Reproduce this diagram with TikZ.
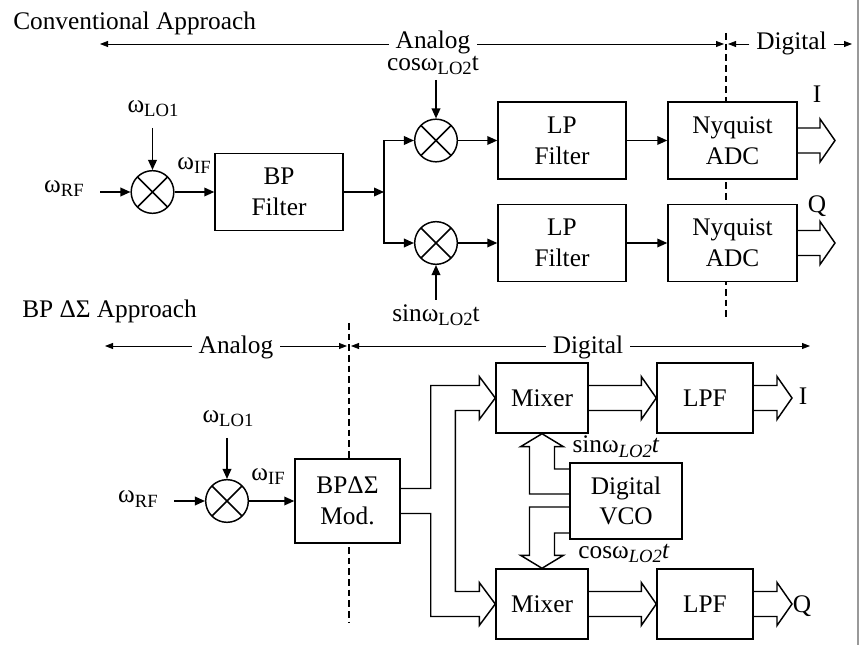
\documentclass[tikz,border=0pt]{standalone}
\usepackage{fontspec}
\setmainfont{Liberation Serif}
\usetikzlibrary{arrows.meta,calc}

% lowered subscript
\newcommand{\sbs}[1]{\raisebox{-3pt}{\fontsize{14}{14}\selectfont #1}}
% hollow bus arrow, #1 start anchor, #2 tip (same height)
\newcommand{\busright}[2]{\draw[bus] ($(#1)+(0,-12.5)$) -- ($(#2)+(-15,-12.5)$) -- ++(0,-9) -- (#2) -- ++(-15,21.5) -- ++(0,-9) -- ($(#1)+(0,12.5)$);}

\tikzset{
  sig/.style={line width=1.1pt, -{Triangle[length=7.5pt,width=6.5pt]}},
  bus/.style={line width=1.1pt, line join=miter},
  span/.style={line width=0.6pt, -{Triangle[length=6pt,width=4.5pt]}},
  divider/.style={line width=1pt, dash pattern=on 5pt off 3pt},
  blk/.style={draw, fill=white, line width=1.1pt, align=center, inner sep=0pt},
  mixer/.style={circle, draw, fill=white, line width=1.1pt, minimum size=32pt, inner sep=0pt,
    path picture={\draw[line width=1.1pt] (path picture bounding box.north west) -- (path picture bounding box.south east)
      (path picture bounding box.north east) -- (path picture bounding box.south west);}},
  lbl/.style={inner sep=0pt, anchor=base},
  tag/.style={inner xsep=5pt, inner ysep=0pt, anchor=base},
}

\begin{document}
\begin{tikzpicture}[x=0.75pt,y=0.75pt,yscale=-1,xscale=1, font=\fontsize{19}{23}\selectfont]
\useasboundingbox (0,0) rectangle (861,645);

%Straight Lines: page edge
\draw [black!40, line width=0.8pt] (858,0) -- (858,645);

%Dashed dividers
\draw [divider] (726,33) -- (726,320);
\draw [divider] (349,323) -- (349,622);

% ---------------- Conventional approach ----------------
% Text Node
\node [lbl, anchor=base west] (tconv) at (13,30) {Conventional Approach};
\node [tag] (tana) at (433,49) {Analog};
\node [tag] (tdig) at (791.5,50) {Digital};
\coordinate (tl) at (100,44);
\coordinate (tm1) at (724,44);
\coordinate (tm2) at (728,44);
\coordinate (tr) at (852,44);
\draw [span] (tana.west |- tl) -- (tl);
\draw [span] (tana.east |- tl) -- (tm1);
\draw [span] (tdig.west |- tl) -- (tm2);
\draw [span] (tdig.east |- tl) -- (tr);

%Shape: Mixers
\node [mixer] (m1) at (152.5,192) {};
\node [mixer] (m2) at (436,140.5) {};
\node [mixer] (m3) at (436,243) {};

%Shape: Blocks
\node [blk, minimum width=96pt, minimum height=57.75pt] (bpf) at (279,192) {BP\\Filter};
\node [blk, minimum width=96pt, minimum height=57.75pt] (lpf1) at (562,140.5) {LP\\Filter};
\node [blk, minimum width=96pt, minimum height=57.75pt] (lpf2) at (562,243) {LP\\Filter};
\node [blk, minimum width=96.75pt, minimum height=57.75pt] (adc1) at (732.5,140.5) {Nyquist\\ADC};
\node [blk, minimum width=96.75pt, minimum height=57.75pt] (adc2) at (732.5,243) {Nyquist\\ADC};

% Text Node
\node [lbl] (tlo1) at (153,113) {ω\sbs{LO1}};
\node [lbl] (trf) at (64,193) {ω\sbs{RF}};
\node [lbl] (tif) at (194,170) {ω\sbs{IF}};
\node [lbl] (tcos) at (433,71) {cosω\sbs{LO2}t};
\node [lbl] (tsin) at (436,322) {sinω\sbs{LO2}t};
\node [lbl] (tI) at (817,103) {I};
\node [lbl] (tQ) at (817,213) {Q};

%Connectors
\coordinate (rfin) at (100,192);
\coordinate (lo1in) at (152.5,128);
\coordinate (jn) at (384,192);
\coordinate (cosin) at (436,80);
\coordinate (sinin) at (436,300);
\coordinate (oI) at (835,140.5);
\coordinate (oQ) at (835,243);
\draw [sig] (rfin) -- (m1);
\draw [sig] (lo1in) -- (m1);
\draw [sig] (m1) -- (bpf);
\draw [sig] (bpf) -- (jn);
\draw [sig] (jn) |- (m2);
\draw [sig] (jn) |- (m3);
\draw [sig] (cosin) -- (m2);
\draw [sig] (sinin) -- (m3);
\draw [sig] (m2) -- (lpf1);
\draw [sig] (m3) -- (lpf2);
\draw [sig] (lpf1) -- (adc1);
\draw [sig] (lpf2) -- (adc2);
\busright{adc1.east}{oI}
\busright{adc2.east}{oQ}

% ---------------- BP Delta-Sigma approach ----------------
% Text Node
\node [lbl, anchor=base west] (tbp) at (22,318) {BP ΔΣ Approach};
\node [tag] (bana) at (236,354) {Analog};
\node [tag] (bdig) at (588,354) {Digital};
\coordinate (bl) at (105,346);
\coordinate (bm1) at (347,346);
\coordinate (bm2) at (351,346);
\coordinate (br) at (810,346);
\draw [span] (bana.west |- bl) -- (bl);
\draw [span] (bana.east |- bl) -- (bm1);
\draw [span] (bdig.west |- bl) -- (bm2);
\draw [span] (bdig.east |- bl) -- (br);

%Shape: Mixer and blocks
\node [mixer] (m4) at (227,501) {};
\node [blk, minimum width=78.75pt, minimum height=63pt] (bpds) at (347.5,501) {BPΔΣ\\Mod.};
\node [blk, minimum width=69pt, minimum height=52.5pt] (mixA) at (542,398) {Mixer};
\node [blk, minimum width=69pt, minimum height=52.5pt] (mixB) at (542,604) {Mixer};
\node [blk, minimum width=72pt, minimum height=52.5pt] (lpfA) at (705,398) {LPF};
\node [blk, minimum width=72pt, minimum height=52.5pt] (lpfB) at (705,604) {LPF};
\node [blk, minimum width=84pt, minimum height=57pt] (vco) at (626,501) {Digital\\VCO};

% Text Node
\node [lbl] (blo1) at (228,422) {ω\sbs{LO1}};
\node [lbl] (brf) at (138,503) {ω\sbs{RF}};
\node [lbl] (bif) at (268,480) {ω\sbs{IF}};
\node [lbl] (bsin) at (616,453) {sinω\sbs{\itshape LO2}\textit{t}};
\node [lbl] (bcos) at (624,558) {cosω\sbs{\itshape LO2}\textit{t}};
\node [lbl] (bI) at (803,405) {I};
\node [lbl] (bQ) at (802,612) {Q};

%Connectors
\coordinate (brfin) at (174,501);
\coordinate (blo1in) at (227,438);
\coordinate (boI) at (792,398);
\coordinate (boQ) at (792,604);
\draw [sig] (brfin) -- (m4);
\draw [sig] (blo1in) -- (m4);
\draw [sig] (m4) -- (bpds);
% modulator output bus to both mixers
\draw [bus] ($(bpds.east)+(0,-12.5)$) -- ++(30,0) |- ($(mixA.west)+(-16,-12.5)$) -- ++(0,-9) -- (mixA.west) -- ++(-16,21.5) -- ++(0,-9)
  -| ($(mixB.west)+(-40,-12.5)$) -- ($(mixB.west)+(-16,-12.5)$) -- ++(0,-9) -- (mixB.west) -- ++(-16,21.5) -- ++(0,-9)
  -| ($(bpds.east)+(30,12.5)$) -- ++(-30,0);
% vco buses
\draw [bus] ($(vco.west)+(0,-7)$) -| ($(mixA.south)+(-12.5,13)$) -- ++(-9,0) -- (mixA.south) -- ++(21.5,13) -- ++(-9,0) |- ($(vco.west)+(0,-32)$);
\draw [bus] ($(vco.west)+(0,6)$) -| ($(mixB.north)+(-12.5,-13)$) -- ++(-9,0) -- (mixB.north) -- ++(21.5,-13) -- ++(-9,0) |- ($(vco.west)+(0,32)$);
\busright{mixA.east}{lpfA.west}
\busright{mixB.east}{lpfB.west}
\busright{lpfA.east}{boI}
\busright{lpfB.east}{boQ}

\end{tikzpicture}
\end{document}
